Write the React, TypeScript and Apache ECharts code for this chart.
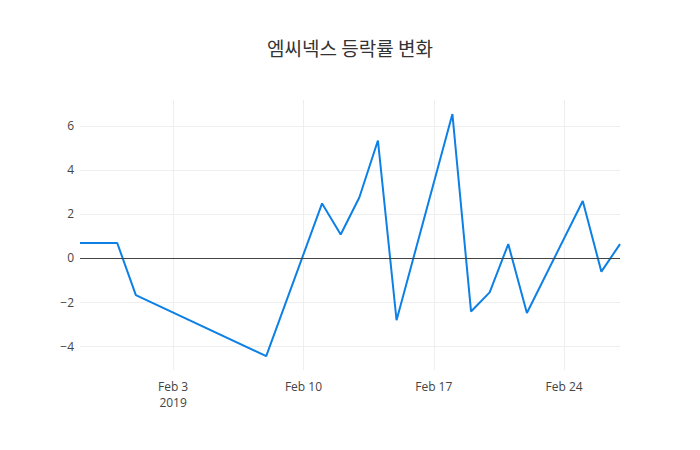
import React, { useEffect, useRef } from "react";
import * as echarts from "echarts";

const dates = [
  "2019-01-29", "2019-01-31", "2019-02-01", "2019-02-08", "2019-02-11",
  "2019-02-12", "2019-02-13", "2019-02-14", "2019-02-15", "2019-02-18",
  "2019-02-19", "2019-02-20", "2019-02-21", "2019-02-22", "2019-02-25",
  "2019-02-26", "2019-02-27",
];
const changes = [
  0.68, 0.68, -1.69, -4.46, 2.48,
  1.07, 2.75, 5.34, -2.83, 6.54,
  -2.43, -1.56, 0.63, -2.5, 2.59,
  -0.62, 0.63,
];
const xTickDates = ["2019-02-03", "2019-02-10", "2019-02-17", "2019-02-24"];
const yTicks = [-4, -2, 0, 2, 4, 6];
const titleText = "엠씨넥스 등락률 변화";

const ts = (d: string) => Date.UTC(+d.slice(0, 4), +d.slice(5, 7) - 1, +d.slice(8, 10));
const monthNames = ["Jan", "Feb", "Mar", "Apr", "May", "Jun", "Jul", "Aug", "Sep", "Oct", "Nov", "Dec"];

export default function App() {
  const ref = useRef<HTMLDivElement>(null);
  useEffect(() => {
    document.body.style.margin = "0";
    if (!ref.current) return;
    const chart = echarts.init(ref.current, null, { renderer: "svg" });
    const xTicks = xTickDates.map(ts);
    const font = '"Open Sans", "Noto Sans", sans-serif';
    chart.setOption({
      animation: false,
      backgroundColor: "#fff",
      title: {
        text: titleText,
        left: "center",
        top: 33,
        textStyle: {
          fontFamily: '"Noto Sans CJK KR", "Open Sans", sans-serif',
          fontSize: 19,
          fontWeight: "normal",
          color: "#333",
        },
      },
      grid: { left: 80, right: 80, top: 100, bottom: 80, containLabel: false },
      xAxis: {
        type: "value",
        min: ts("2019-01-29"),
        max: ts("2019-02-27"),
        axisLine: { show: false },
        axisTick: { show: false, customValues: xTicks },
        axisLabel: {
          customValues: xTicks,
          color: "#444",
          fontSize: 12,
          fontFamily: font,
          margin: 8,
          lineHeight: 16,
          formatter: (v: number) => {
            const d = new Date(v);
            const s = monthNames[d.getUTCMonth()] + " " + d.getUTCDate();
            return v === xTicks[0] ? s + "\n" + d.getUTCFullYear() : s;
          },
        },
        splitLine: { show: true, lineStyle: { color: "#eee", width: 1 } },
      },
      yAxis: {
        type: "value",
        min: -5.09,
        max: 7.18,
        axisLine: { show: false },
        axisTick: { show: false, customValues: yTicks },
        axisLabel: {
          customValues: yTicks,
          color: "#444",
          fontSize: 12,
          fontFamily: font,
          margin: 6,
          formatter: (v: number) => (v < 0 ? "\u2212" + Math.abs(v) : String(v)),
        },
        splitLine: { show: true, lineStyle: { color: "#eee", width: 1 } },
      },
      series: [
        {
          type: "line",
          data: dates.map((d, i) => [ts(d), changes[i]]),
          showSymbol: false,
          symbol: "none",
          lineStyle: { color: "#0d80e6", width: 2 },
          itemStyle: { color: "#0d80e6" },
          markLine: {
            silent: true,
            symbol: "none",
            label: { show: false },
            lineStyle: { color: "#444", width: 1, type: "solid" },
            data: [{ yAxis: 0 }],
          },
          z: 3,
        },
      ],
    });
    return () => chart.dispose();
  }, []);
  return <div ref={ref} style={{ width: 700, height: 450 }} />;
}
